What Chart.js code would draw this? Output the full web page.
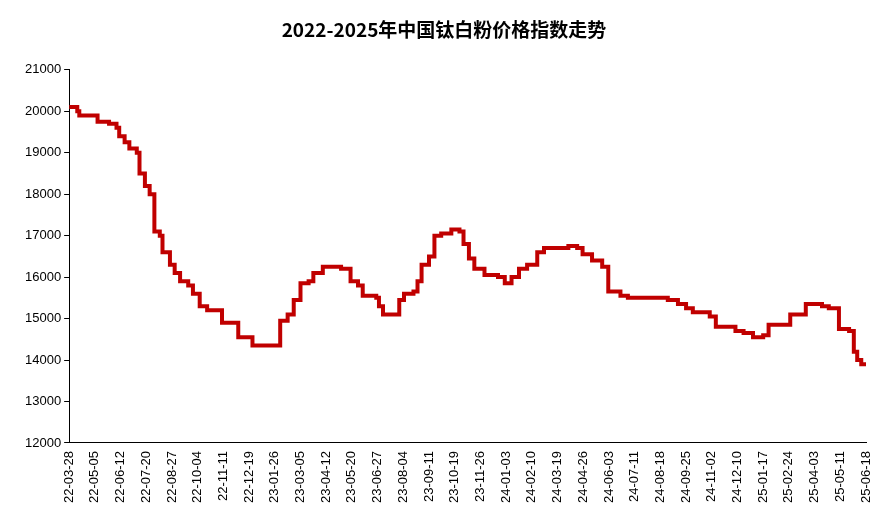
<!DOCTYPE html>
<html><head><meta charset="utf-8">
<script src="https://cdn.jsdelivr.net/npm/chart.js@4"></script>
<style>body{margin:0;background:#fff}#w{width:888px;height:532px}</style>
</head><body><div id="w"><canvas id="c"></canvas></div>
<script>
const tickLabels=["22-03-28","22-05-05","22-06-12","22-07-20","22-08-27","22-10-04","22-11-11","22-12-19","23-01-26","23-03-05","23-04-12","23-05-20","23-06-27","23-08-04","23-09-11","23-10-19","23-11-26","24-01-03","24-02-10","24-03-19","24-04-26","24-06-03","24-07-11","24-08-18","24-09-25","24-11-02","24-12-10","25-01-17","25-02-24","25-04-03","25-05-11","25-06-18"];
const tickStep=38;
const days=[0,12,15,40,42,59,70,74,82,89,100,104,112,119,126,134,138,149,156,164,176,183,193,204,226,250,271,312,323,332,342,354,361,375,402,416,427,434,454,458,464,488,495,509,515,521,532,540,550,565,577,583,591,599,614,634,644,654,665,677,692,702,738,751,759,773,788,797,815,826,885,900,912,922,947,956,985,997,1011,1026,1034,1066,1089,1113,1123,1138,1153,1160,1165,1171,1178];
const prices=[20100,20000,19900,19900,19750,19700,19600,19400,19250,19100,19000,18500,18200,18000,17100,17000,16600,16300,16100,15900,15800,15600,15300,15200,14900,14550,14350,14950,15100,15450,15850,15900,16100,16250,16200,15900,15800,15550,15500,15300,15100,15450,15600,15650,15900,16300,16500,17000,17050,17150,17100,16800,16450,16200,16050,16000,15850,16000,16200,16300,16600,16700,16750,16700,16550,16400,16250,15650,15550,15500,15450,15350,15250,15150,15050,14800,14700,14650,14550,14600,14850,15100,15350,15300,15250,14750,14700,14200,14000,13900,13900];
new Chart(document.getElementById('c'),{
type:'line',
data:{datasets:[{data:days.map((d,i)=>({x:d,y:prices[i]})),borderColor:'#C00000',borderWidth:4,pointRadius:0,stepped:'before',fill:false}]},
options:{responsive:true,maintainAspectRatio:false,animation:false,
layout:{padding:{left:22,right:22,top:14,bottom:26}},
plugins:{legend:{display:false},tooltip:{enabled:false},
title:{display:true,text:'2022-2025年中国钛白粉价格指数走势',color:'#000',font:{size:19,weight:'bold',family:'"Noto Sans CJK SC",sans-serif'},padding:{top:4,bottom:29}}},
scales:{
x:{type:'linear',min:0,max:1178,
afterBuildTicks:s=>{s.ticks=tickLabels.map((t,i)=>({value:i*tickStep}));},
ticks:{autoSkip:false,maxRotation:90,minRotation:90,color:'#000',font:{size:13,family:'"Liberation Sans",Arial'},callback:(v)=>tickLabels[Math.round(v/tickStep)]},
grid:{display:false,drawOnChartArea:false,drawTicks:true,tickLength:5,color:'#000'},border:{color:'#000',width:1}},
y:{min:12000,max:21000,
ticks:{stepSize:1000,color:'#000',font:{size:13,family:'"Liberation Sans",Arial'},callback:v=>String(v)},
grid:{drawOnChartArea:false,drawTicks:true,tickLength:5,color:'#000'},border:{color:'#000',width:1}}
}}});
</script></body></html>
